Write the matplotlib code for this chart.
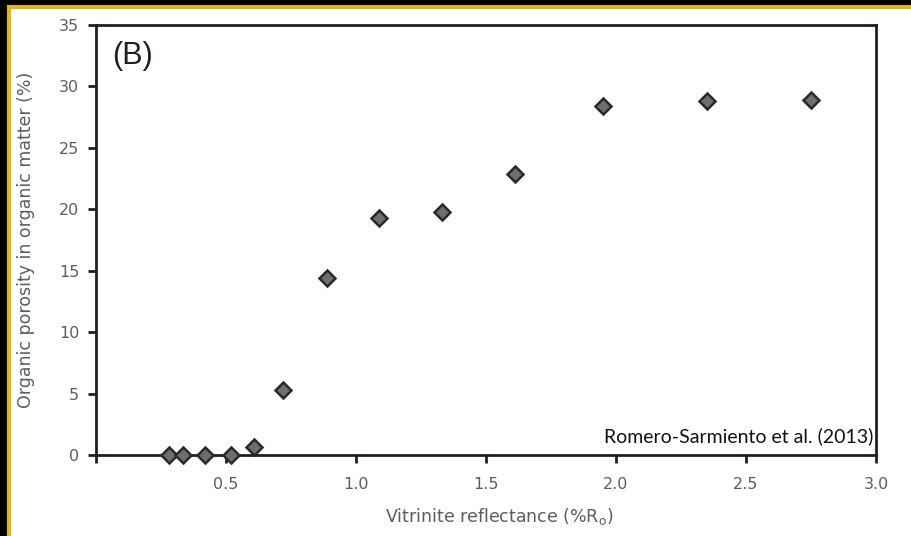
import numpy as np
import matplotlib
matplotlib.use("Agg")
import matplotlib.pyplot as plt
from matplotlib.patches import Rectangle

# vitrinite reflectance (%Ro) vs organic porosity (%)
ro = [0.28, 0.335, 0.42, 0.52, 0.607, 0.72, 0.89, 1.09, 1.33, 1.61, 1.95, 2.35, 2.75]
porosity = [0.0, 0.0, 0.0, 0.0, 0.65, 5.3, 14.4, 19.3, 19.8, 22.9, 28.4, 28.8, 28.9]

xticks = [0.5, 1.0, 1.5, 2.0, 2.5, 3.0]
xtick_labels = ["0.5", "1.0", "1.5", "2.0", "2.5", "3.0"]
yticks = [0, 5, 10, 15, 20, 25, 30, 35]

W, H = 911, 536
fig = plt.figure(figsize=(W / 100, H / 100), dpi=100)
fig.patch.set_facecolor("black")

# slide frame: yellow border on top/left, white panel
fig.add_artist(Rectangle((7 / W, 0), 1, 1 - 5 / H, transform=fig.transFigure,
                         facecolor="#e8b800", edgecolor="none", zorder=-2))
fig.add_artist(Rectangle((11 / W, 0), 1, 1 - 9 / H, transform=fig.transFigure,
                         facecolor="white", edgecolor="none", zorder=-1))

ax = fig.add_axes([96 / W, 1 - 455 / H, (876 - 96) / W, (455 - 25) / H])
ax.set_facecolor("white")

ax.plot(ro, porosity, linestyle="none", marker="D", markersize=8,
        markerfacecolor="#6e6e6e", markeredgecolor="#2a2a2a", markeredgewidth=1.8,
        clip_on=False, zorder=3)

ax.set_xlim(0, 3.0)
ax.set_ylim(0, 35)
ax.set_xticks([0] + xticks)
ax.set_xticklabels([""] + xtick_labels)
ax.set_yticks(yticks)

for s in ax.spines.values():
    s.set_linewidth(2)
    s.set_color("#231f20")
grey = "#5c5c68"
ax.tick_params(direction="out", length=6, width=2, color="#231f20",
               labelsize=11.5, labelcolor=grey)
ax.tick_params(axis="x", pad=10)
ax.tick_params(axis="y", pad=6)

ax.set_xlabel("Vitrinite reflectance (%R$_{\\mathrm{o}}$)", fontsize=12.5, color=grey)
ax.xaxis.set_label_coords(0.517, -0.118)
ax.set_ylabel("Organic porosity in organic matter (%)", fontsize=12.5, color=grey)
ax.yaxis.set_label_coords(-0.078, 0.5)

ax.text(0.021, 0.962, "(B)", transform=ax.transAxes, fontsize=22,
        family="Liberation Sans", color="#231f20", ha="left", va="top")
ax.text(0.996, 0.022, "Romero-Sarmiento et al. (2013)", transform=ax.transAxes,
        fontsize=14, family="Lato", color="#111111", ha="right", va="bottom")

fig.savefig("out.png", dpi=100, facecolor=fig.get_facecolor())
